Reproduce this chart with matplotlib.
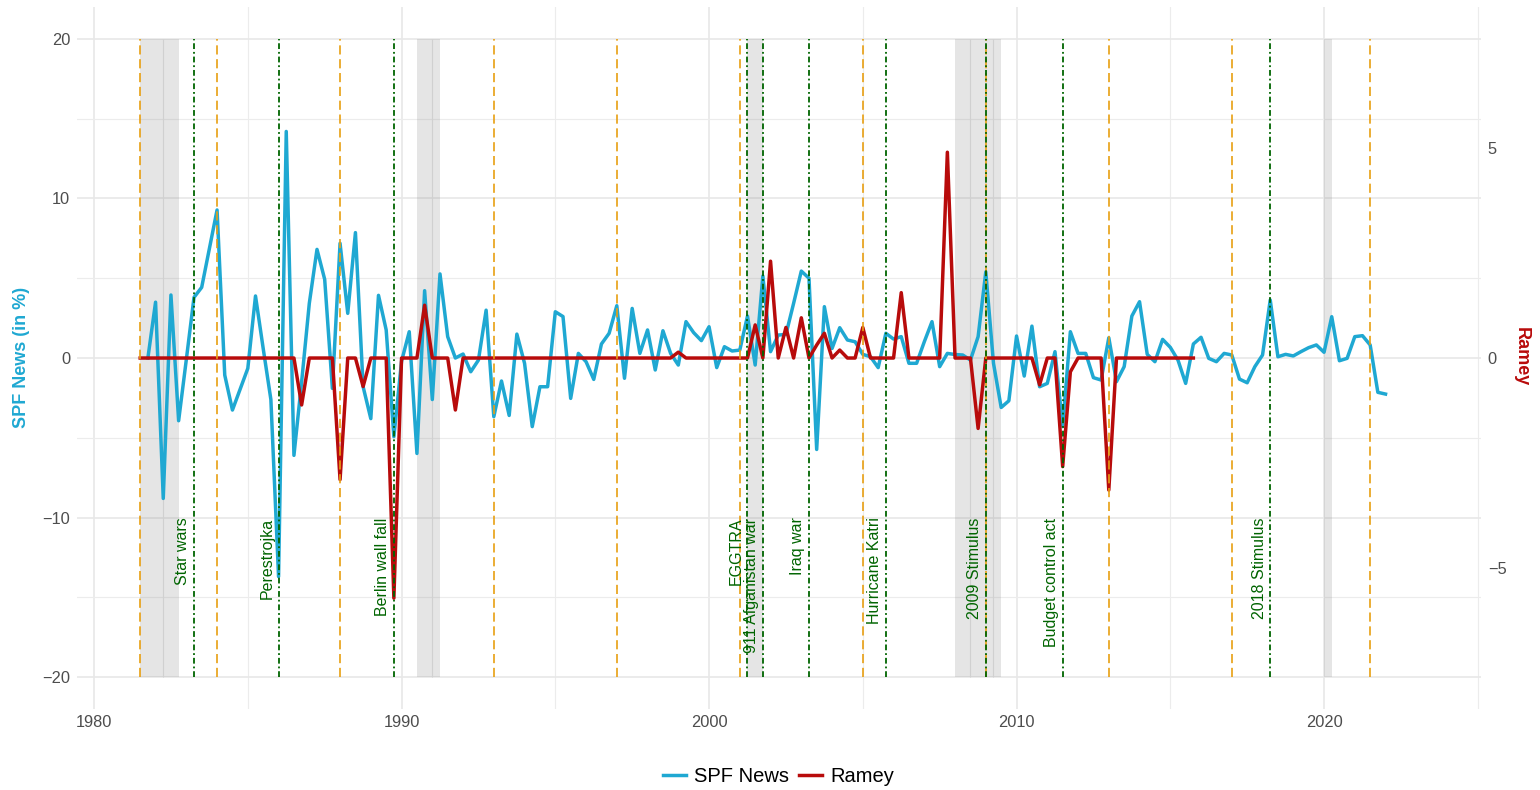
import matplotlib
matplotlib.use("Agg")
import matplotlib.pyplot as plt
from matplotlib.ticker import MultipleLocator
import numpy as np

plt.rcParams['font.family'] = ['Liberation Sans', 'DejaVu Sans']

# Quarterly SPF news shocks (in %), starting 1981Q4.
spf_start = 1981.75
spf_news = [
    0.0, 3.5, -8.8, 3.95, -3.93, -0.1, 3.8, 4.43, 6.85, 9.28,
    -1.07, -3.26, -1.95, -0.65, 3.89, 0.6, -2.6, -13.7, 14.2, -6.1,
    -1.5, 3.43, 6.81, 4.93, -1.9, 7.19, 2.8, 7.86, -1.8, -3.8,
    3.93, 1.76, -4.93, -0.2, 1.65, -5.98, 4.22, -2.6, 5.27, 1.34,
    0.0, 0.25, -0.86, -0.13, 3.0, -3.68, -1.44, -3.6, 1.5, -0.33,
    -4.3, -1.8, -1.8, 2.9, 2.6, -2.53, 0.29, -0.23, -1.34, 0.88,
    1.55, 3.28, -1.27, 3.11, 0.29, 1.76, -0.75, 1.71, 0.29, -0.44,
    2.28, 1.59, 1.09, 1.96, -0.6, 0.71, 0.44, 0.5, 2.63, -0.44,
    5.14, 0.4, 1.44, 1.48, 3.43, 5.45, 5.0, -5.73, 3.22, 0.6,
    1.9, 1.13, 1.02, 0.23, 0.08, -0.6, 1.55, 1.19, 1.34, -0.33,
    -0.33, 1.02, 2.28, -0.54, 0.29, 0.22, 0.19, -0.13, 1.34, 5.4,
    -0.33, -3.1, -2.68, 1.38, -1.13, 2.0, -1.8, -1.59, 0.4, -4.3,
    1.65, 0.29, 0.29, -1.23, -1.38, 1.27, -1.48, -0.54, 2.63, 3.53,
    0.23, -0.23, 1.17, 0.67, -0.13, -1.59, 0.88, 1.3, -0.02, -0.23,
    0.29, 0.19, -1.32, -1.55, -0.54, 0.19, 3.64, 0.08, 0.23, 0.13,
    0.4, 0.65, 0.82, 0.36, 2.59, -0.17, -0.02, 1.34, 1.4, 0.82,
    -2.15, -2.26,
]

# Quarterly Ramey military news, starting 1981Q3 (right axis units).
ramey_start = 1981.5
ramey = [0.0] * 138
ramey_shocks = {
    21: -1.12, 26: -2.9, 29: -0.68, 33: -5.73, 37: 1.26, 41: -1.24,
    70: 0.14, 80: 0.79, 82: 2.31, 84: 0.73, 86: 0.96, 88: 0.31,
    89: 0.59, 91: 0.19, 94: 0.73, 99: 1.56, 105: 4.91, 109: -1.68,
    117: -0.64, 120: -2.59, 121: -0.33, 126: -3.15,
}
for q, v in ramey_shocks.items():
    ramey[q] = v

recessions = [(1981.5, 1982.75), (1990.5, 1991.25), (2001.25, 2001.75),
              (2008.0, 2009.5), (2020.0, 2020.25)]
recession_seams = [1982.25, 1991.0, 2008.5, 2009.25]
orange_dates = [1981.5, 1984.0, 1988.0, 1993.0, 1997.0, 2001.0, 2005.0,
                2009.0, 2013.0, 2017.0, 2021.5]
event_dates = [1983.25, 1986.0, 1989.75, 2001.25, 2001.75, 2003.25,
               2005.75, 2009.0, 2011.5, 2018.25]
event_labels = ["Star wars", "Perestrojka", "Berlin wall fall", "EGGTRA",
                "911 Afganistan war", "Iraq war", "Hurricane Katri",
                "2009 Stimulus", "Budget control act", "2018 Stimulus"]

# ratio between left (SPF) and right (Ramey) axis
SCALE = 2.627
V_LO, V_HI = -20, 20
LABEL_Y = -10

BLUE = '#1fa8d2'
RED = '#b80b0b'
ORANGE = '#e89f12'
GREEN = '#006400'
GREY_TXT = '#4d4d4d'

spf_x = spf_start + 0.25 * np.arange(len(spf_news))
ramey_x = ramey_start + 0.25 * np.arange(len(ramey))

fig = plt.figure(figsize=(15.4, 7.9), dpi=100)
ax = fig.add_axes([0.0501, 0.1025, 0.9115, 0.8886])

for x0, x1 in recessions:
    ax.fill_betweenx([V_LO, V_HI], x0, x1, color='#7f7f7f', alpha=0.2,
                     lw=0, zorder=1)
ax.vlines(recession_seams, V_LO, V_HI, color='#d0d0d0', lw=0.8, zorder=1)

l_spf, = ax.plot(spf_x, spf_news, color=BLUE, lw=2.5, zorder=2,
                 solid_joinstyle='round')
l_ram, = ax.plot(ramey_x, np.array(ramey) * SCALE, color=RED, lw=2.5,
                 zorder=3, solid_joinstyle='round')

ax.vlines(orange_dates, V_LO, V_HI, color=ORANGE, lw=1.2,
          linestyles=[(0, (5.5, 2.8))], zorder=4)
ax.vlines(event_dates, V_LO, V_HI, color=GREEN, lw=1.3,
          linestyles=[(0, (3.2, 1.6, 1.0, 1.6))], zorder=4)

for d, lab in zip(event_dates, event_labels):
    ax.annotate(lab, xy=(d, LABEL_Y), xytext=(-8, 0),
                textcoords='offset points', rotation=90, ha='center',
                va='top', color=GREEN, fontsize=11.5, zorder=5)

ax.set_xlim(1979.45, 2025.1)
ax.set_ylim(-22, 22)
ax.xaxis.set_major_locator(MultipleLocator(10))
ax.xaxis.set_minor_locator(MultipleLocator(5))
ax.yaxis.set_major_locator(MultipleLocator(10))
ax.yaxis.set_minor_locator(MultipleLocator(5))
ax.set_axisbelow(True)
ax.grid(which='major', color='#e8e8e8', lw=1.2)
ax.grid(which='minor', color='#ececec', lw=0.8)
for s in ax.spines.values():
    s.set_visible(False)
ax.tick_params(which='both', length=0, labelsize=11.8, labelcolor=GREY_TXT)
ax.tick_params(axis='y', pad=5)
ax.tick_params(axis='x', pad=4)

sec = ax.secondary_yaxis('right', functions=(lambda y: y / SCALE,
                                             lambda y: y * SCALE))
sec.set_yticks([-5, 0, 5])
sec.tick_params(length=0, labelsize=11.8, labelcolor=GREY_TXT, pad=5)
for s in sec.spines.values():
    s.set_visible(False)

fig.text(22 / 1540, 1 - 357 / 790, 'SPF News (in %)', rotation=90,
         ha='center', va='center', color=BLUE, fontweight='bold', fontsize=13)
fig.text(1521 / 1540, 1 - 357 / 790, 'Ramey', rotation=270,
         ha='center', va='center', color=RED, fontweight='bold', fontsize=13)

fig.legend([l_spf, l_ram], ['SPF News', 'Ramey'], loc='center',
           bbox_to_anchor=(0.5055, 0.0165), ncol=2, frameon=False,
           fontsize=14.5, handlelength=1.15, handletextpad=0.4,
           columnspacing=0.5)

fig.savefig('out.png', dpi=100)
